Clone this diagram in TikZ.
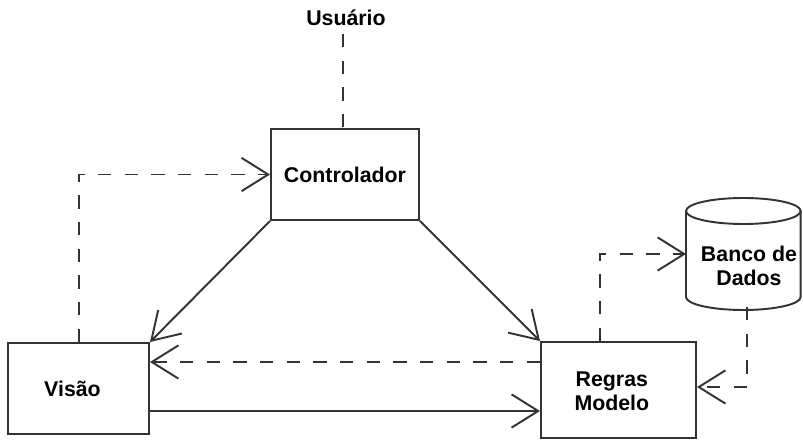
\documentclass[tikz,border=0pt]{standalone}
\usepackage{fontspec}
\setmainfont{Liberation Sans}
\usetikzlibrary{arrows.meta,calc}
\definecolor{ln}{HTML}{333333}
\tikzset{
  box/.style={draw=ln, line width=1.45pt, fill=white, inner sep=0pt},
  lbl/.style={font=\bfseries\fontsize{16pt}{18pt}\selectfont, text=black, align=center},
  conn/.style={draw=ln, line width=1.45pt, -{Straight Barb[length=20pt,width=25pt,line width=1.45pt]}},
  dconn/.style={conn, dash pattern=on 10pt off 10pt},
  dline/.style={draw=ln, line width=1.45pt, dash pattern=on 10pt off 10pt},
}
\begin{document}
\begin{tikzpicture}[x=0.75pt,y=-0.75pt]
\useasboundingbox (0,0) rectangle (803,441);
% boxes
\node[box, minimum width=111pt, minimum height=68.25pt, lbl] (c) at (345,174.5) {Controlador};
\node[box, minimum width=105.75pt, minimum height=68.25pt, label={[lbl, xshift=-4.5pt]center:Visão}] (v) at (78.5,388.5) {};
\node[box, minimum width=116.25pt, minimum height=72pt, label={[lbl, xshift=-5pt, yshift=-1pt]center:Regras\\Modelo}] (r) at (618.5,390) {};
\node[lbl] (u) at (346,17.5) {Usuário};
% database cylinder
\draw[ln, line width=1.45pt, fill=white] (686,211) -- (686,297) arc[start angle=180, end angle=360, x radius=43pt, y radius=9.75pt] -- (800.67,211);
\draw[ln, line width=1.45pt] (743.33,211) ellipse [x radius=43pt, y radius=9.75pt];
\node[lbl] (db) at (749,266) {Banco de\\Dados};
\coordinate (dbw) at (686,254);
\coordinate (dbs) at (747,307);
% connectors
\draw[dline] (u.south -| 343,0) ++(0,4) -- (c.north -| 343,0);
\draw[dconn] (v.north -| 79,0) |- (c.west);
\draw[conn] (c.south west) -- (v.north east);
\draw[conn] (c.south east) -- (r.north west);
\draw[dconn] (r.west |- 0,362) -- (v.east |- 0,362);
\draw[conn] (v.east |- 0,411) -- (r.west |- 0,411);
\draw[dconn] (r.north -| 600,0) |- (dbw);
\draw[dconn] (dbs) |- (r.east |- 0,387);
\end{tikzpicture}
\end{document}
